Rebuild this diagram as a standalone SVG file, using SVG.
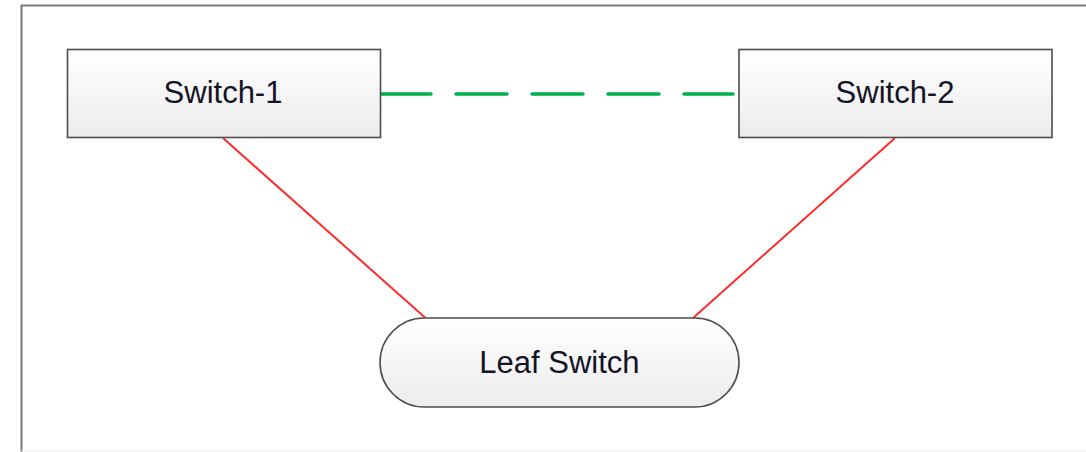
<svg xmlns="http://www.w3.org/2000/svg" width="1086" height="452" viewBox="0 0 1086 452">
  <defs>
    <linearGradient id="boxFill" x1="0" y1="0" x2="0" y2="1">
      <stop offset="0" stop-color="#ffffff"/>
      <stop offset="1" stop-color="#ececec"/>
    </linearGradient>
    <style>
      .node { fill: url(#boxFill); stroke: #4d4d4d; stroke-width: 1.6; }
      .label { font-family: "Liberation Sans", Arial, sans-serif; font-size: 31px; fill: #141428; text-anchor: middle; }
      .red { stroke: #ff2a2a; stroke-width: 2; fill: none; }
      .green { stroke: #00b050; stroke-width: 3.5; fill: none; stroke-dasharray: 51 25; stroke-linecap: round; }
    </style>
  </defs>
  <rect width="1086" height="452" fill="#ffffff"/>
  <g id="frame">
    <path d="M21.5 452 V5.5 H1086" fill="none" stroke="#7a7a7a" stroke-width="2"/>
    <line x1="21" y1="451" x2="1086" y2="451" stroke="#ededed" stroke-width="1"/>
  </g>
  <g id="connectors">
    <line class="green" x1="380" y1="94" x2="733" y2="94"/>
    <line class="red" x1="223" y1="138" x2="425.5" y2="318"/>
    <line class="red" x1="895" y1="138" x2="693" y2="318"/>
  </g>
  <g id="switch-1">
    <rect class="node" x="67.5" y="49.5" width="313" height="88"/>
    <text class="label" x="223" y="103">Switch-1</text>
  </g>
  <g id="switch-2">
    <rect class="node" x="739" y="49.5" width="313" height="88"/>
    <text class="label" x="895" y="103">Switch-2</text>
  </g>
  <g id="leaf-switch">
    <rect class="node" x="380" y="318" width="359" height="89" rx="44.5" ry="44.5"/>
    <text class="label" x="559.5" y="372.5">Leaf Switch</text>
  </g>
</svg>
